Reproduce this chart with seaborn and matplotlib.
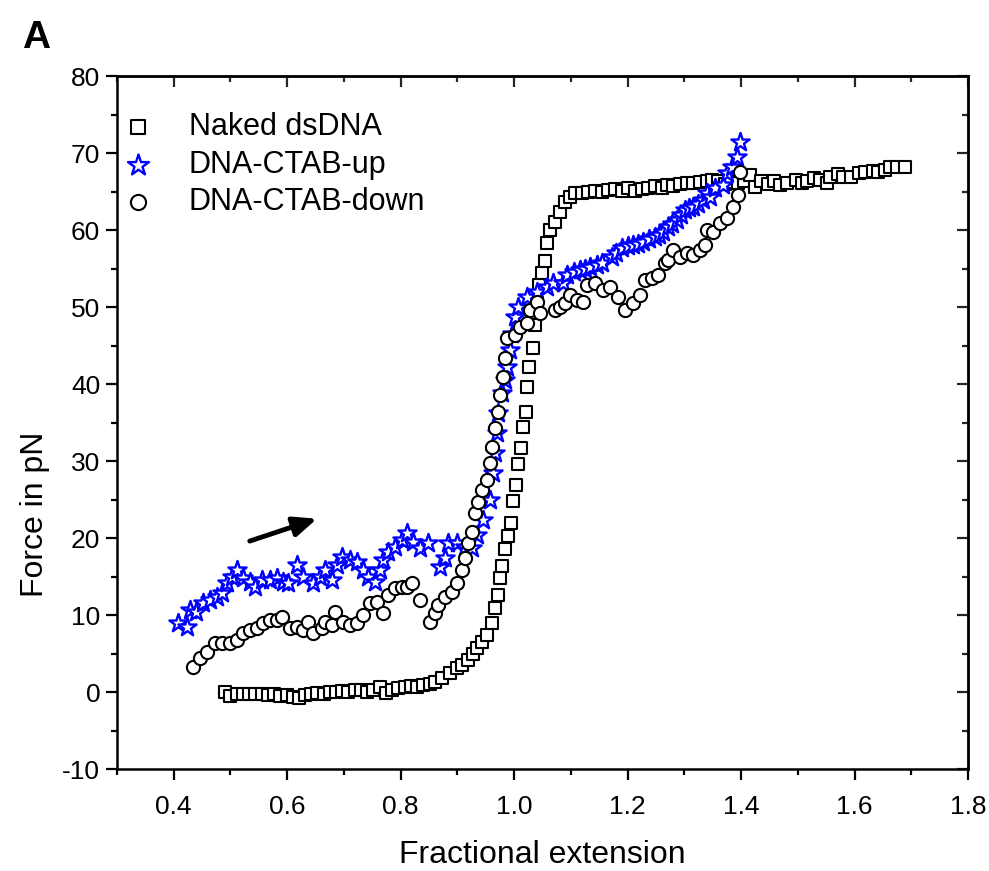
import matplotlib
matplotlib.use("Agg")
import matplotlib.pyplot as plt
import seaborn as sns
import numpy as np
from matplotlib.ticker import MultipleLocator

# ---------------- data ----------------
naked_x = [0.490, 0.500, 0.511, 0.522, 0.533, 0.544, 0.555, 0.566, 0.577, 0.588,
           0.599, 0.610, 0.620, 0.631, 0.642, 0.653, 0.664, 0.675, 0.686, 0.697,
           0.708, 0.719, 0.730, 0.741, 0.752, 0.763, 0.774, 0.785, 0.796, 0.807,
           0.818, 0.829, 0.840, 0.851, 0.860, 0.873, 0.887, 0.899, 0.908, 0.919,
           0.928, 0.935, 0.943, 0.952, 0.961, 0.966, 0.972, 0.975, 0.979, 0.984,
           0.989, 0.995, 0.998, 1.003, 1.007, 1.012, 1.016, 1.021, 1.023, 1.026,
           1.033, 1.037, 1.040, 1.043, 1.049, 1.054, 1.058, 1.063, 1.072, 1.081,
           1.090, 1.098, 1.107, 1.120, 1.130, 1.143, 1.155, 1.166, 1.178, 1.190,
           1.200, 1.213, 1.225, 1.236, 1.248, 1.260, 1.270, 1.280, 1.292, 1.305,
           1.315, 1.328, 1.340, 1.349, 1.360, 1.372, 1.383, 1.395, 1.405, 1.415,
           1.425, 1.436, 1.447, 1.458, 1.469, 1.481, 1.496, 1.508, 1.517, 1.528,
           1.540, 1.552, 1.557, 1.570, 1.580, 1.593, 1.607, 1.619, 1.632, 1.642,
           1.654, 1.663, 1.675, 1.689]
naked_y = [0.0, -0.5, -0.3, -0.2, -0.3, -0.2, -0.3, -0.4, -0.2, -0.5,
           -0.4, -0.6, -0.8, -0.4, -0.3, -0.1, -0.2, 0.0, 0.0, 0.1,
           0.0, 0.2, 0.3, 0.0, 0.2, 0.6, -0.1, 0.3, 0.5, 0.6,
           0.8, 0.7, 0.9, 1.0, 1.3, 1.8, 2.5, 3.1, 3.5, 4.2,
           4.9, 5.7, 6.5, 7.4, 9.0, 10.9, 12.6, 14.8, 16.4, 18.6,
           20.3, 21.9, 24.8, 26.9, 29.6, 31.7, 34.4, 36.4, 39.6, 42.2,
           44.7, 47.7, 50.5, 52.9, 54.4, 56.0, 58.3, 60.0, 61.0, 62.3,
           63.6, 64.3, 64.8, 64.8, 64.9, 65.1, 64.9, 65.2, 65.3, 65.1,
           65.5, 65.1, 65.3, 65.5, 65.7, 65.5, 65.8, 65.7, 66.0, 66.1,
           66.1, 66.2, 66.4, 66.5, 66.3, 66.0, 66.2, 66.1, 66.4, 67.1,
           65.6, 66.3, 66.0, 66.4, 65.8, 66.1, 66.5, 66.1, 66.3, 66.8,
           66.5, 66.1, 66.9, 67.3, 66.9, 66.9, 67.4, 67.5, 67.7, 67.5,
           67.8, 68.2, 68.2, 68.2]

up_x = [0.408, 0.423, 0.429, 0.440, 0.452, 0.464, 0.476, 0.485, 0.494, 0.503,
        0.511, 0.522, 0.534, 0.543, 0.556, 0.570, 0.582, 0.593, 0.601, 0.617,
        0.628, 0.646, 0.658, 0.667, 0.679, 0.688, 0.697, 0.711, 0.723, 0.734,
        0.742, 0.755, 0.764, 0.769, 0.778, 0.790, 0.802, 0.811, 0.822, 0.834,
        0.848, 0.869, 0.878, 0.883, 0.899, 0.913, 0.926, 0.935, 0.945, 0.957,
        0.963, 0.966, 0.970, 0.972, 0.979, 0.984, 0.987, 0.993, 0.997, 1.002,
        1.007, 1.023, 1.040, 1.058, 1.069, 1.086, 1.093, 1.105, 1.116, 1.125,
        1.134, 1.146, 1.155, 1.173, 1.180, 1.190, 1.200, 1.210, 1.218, 1.227,
        1.237, 1.248, 1.255, 1.262, 1.271, 1.279, 1.287, 1.294, 1.301, 1.308,
        1.315, 1.324, 1.333, 1.340, 1.345, 1.354, 1.368, 1.375, 1.384, 1.393,
        1.398]
up_y = [9.0, 8.4, 10.6, 10.4, 11.6, 11.9, 12.3, 12.9, 14.2, 15.0,
        15.8, 14.8, 14.3, 13.6, 14.5, 14.5, 14.8, 14.3, 14.2, 16.5,
        15.0, 14.2, 15.0, 15.8, 14.5, 16.5, 17.5, 17.1, 16.9, 15.8,
        15.0, 14.3, 15.8, 17.1, 18.2, 18.8, 19.7, 20.6, 19.5, 18.7,
        19.4, 16.2, 17.4, 19.4, 19.4, 18.8, 18.7, 20.4, 22.3, 24.9,
        28.4, 31.0, 33.6, 36.2, 38.8, 40.5, 42.2, 44.4, 46.5, 48.7,
        50.0, 51.3, 51.9, 52.6, 53.1, 53.1, 54.2, 54.5, 54.8, 55.0,
        55.2, 55.5, 55.7, 56.5, 57.0, 57.7, 57.9, 58.1, 58.2, 58.4,
        58.8, 59.1, 59.4, 59.7, 60.4, 60.8, 61.3, 62.0, 62.6, 62.8,
        63.0, 63.4, 63.9, 64.8, 64.3, 65.5, 65.8, 67.4, 68.2, 69.5,
        71.4]

down_x = [0.434, 0.446, 0.459, 0.473, 0.485, 0.499, 0.511, 0.522, 0.534, 0.547,
          0.557, 0.570, 0.582, 0.591, 0.605, 0.617, 0.628, 0.637, 0.646, 0.661,
          0.667, 0.679, 0.684, 0.698, 0.711, 0.723, 0.734, 0.746, 0.758, 0.769,
          0.778, 0.790, 0.802, 0.811, 0.820, 0.834, 0.852, 0.861, 0.866, 0.878,
          0.891, 0.899, 0.908, 0.913, 0.919, 0.926, 0.931, 0.936, 0.943, 0.952,
          0.957, 0.961, 0.966, 0.972, 0.975, 0.980, 0.984, 0.987, 1.002, 1.010,
          1.023, 1.028, 1.040, 1.046, 1.072, 1.081, 1.090, 1.098, 1.110, 1.121,
          1.128, 1.143, 1.157, 1.169, 1.183, 1.195, 1.210, 1.222, 1.231, 1.243,
          1.254, 1.266, 1.271, 1.280, 1.292, 1.305, 1.315, 1.328, 1.336, 1.340,
          1.351, 1.363, 1.375, 1.386, 1.395, 1.398]
down_y = [3.2, 4.4, 5.2, 6.4, 6.4, 6.4, 6.8, 7.7, 8.1, 8.3,
          9.0, 9.4, 9.4, 9.7, 8.3, 8.4, 8.1, 9.1, 7.7, 8.3,
          9.1, 8.7, 10.4, 9.1, 8.7, 9.0, 10.0, 11.6, 11.7, 10.3,
          12.6, 13.5, 13.6, 13.6, 14.2, 11.9, 9.1, 10.3, 11.3, 12.3,
          13.0, 14.2, 15.8, 17.4, 19.4, 20.8, 23.2, 24.7, 26.2, 27.5,
          29.7, 31.8, 34.3, 36.4, 38.6, 40.9, 43.4, 46.0, 46.4, 47.4,
          47.9, 49.6, 50.6, 49.2, 49.6, 50.0, 50.5, 51.6, 50.9, 50.6,
          52.9, 53.1, 52.2, 52.6, 51.3, 49.6, 50.5, 51.6, 53.5, 53.8,
          54.2, 55.7, 56.1, 57.4, 56.5, 57.0, 56.8, 57.4, 58.1, 60.0,
          59.7, 60.9, 61.6, 63.0, 64.5, 67.5]

series_labels = ["Naked dsDNA", "DNA-CTAB-up", "DNA-CTAB-down"]
arrow_start = (0.534, 19.6)
arrow_end = (0.6525, 22.5)

# ---------------- styling ----------------
sns.set_style("ticks")
plt.rcParams["font.family"] = ["Liberation Sans", "DejaVu Sans"]
plt.rcParams["axes.unicode_minus"] = False
plt.rcParams["text.color"] = "black"
plt.rcParams["axes.labelcolor"] = "black"

W, H = 989, 871
fig = plt.figure(figsize=(W / 100, H / 100), dpi=100)
L, R, T, B = 117, 968, 76, 769
ax = fig.add_axes([L / W, 1 - B / H, (R - L) / W, (B - T) / H])

sns.scatterplot(x=naked_x, y=naked_y, marker="s", s=74, facecolor="white",
                edgecolor="black", linewidth=1.5, ax=ax, label=series_labels[0],
                zorder=3)
sns.scatterplot(x=up_x, y=up_y, marker="*", s=190, facecolor="white",
                edgecolor="#0000ff", linewidth=1.7, ax=ax, label=series_labels[1],
                zorder=4)
sns.scatterplot(x=down_x, y=down_y, marker="o", s=90, facecolor="white",
                edgecolor="black", linewidth=1.5, ax=ax, label=series_labels[2],
                zorder=5)

ax.set_xlim(0.3, 1.8)
ax.set_ylim(-10, 80)
ax.xaxis.set_minor_locator(MultipleLocator(0.1))
ax.yaxis.set_major_locator(MultipleLocator(10))
ax.yaxis.set_minor_locator(MultipleLocator(5))
xt = np.arange(0.4, 1.81, 0.2)
ax.set_xticks(xt)
ax.set_xticklabels([f"{v:.1f}" for v in xt])

for sp in ax.spines.values():
    sp.set_linewidth(1.8)
    sp.set_color("black")

ax.tick_params(axis="both", which="both", direction="out", width=1.6,
               colors="black", labelsize=19, top=False, right=False)
ax.tick_params(axis="both", which="major", length=8)
ax.tick_params(axis="both", which="minor", length=4.5)
ax.tick_params(axis="x", which="major", pad=11)
ax.tick_params(axis="y", which="major", pad=4)

secx = ax.secondary_xaxis("top")
secx.xaxis.set_major_locator(MultipleLocator(0.2))
secx.xaxis.set_minor_locator(MultipleLocator(0.1))
secx.tick_params(axis="x", which="both", direction="in", width=1.6,
                 labeltop=False)
secx.tick_params(axis="x", which="major", length=8)
secx.tick_params(axis="x", which="minor", length=4.5)
secx.spines["top"].set_linewidth(1.8)

secy = ax.secondary_yaxis("right")
secy.yaxis.set_major_locator(MultipleLocator(10))
secy.yaxis.set_minor_locator(MultipleLocator(5))
secy.tick_params(axis="y", which="both", direction="in", width=1.6,
                 labelright=False)
secy.tick_params(axis="y", which="major", length=8)
secy.tick_params(axis="y", which="minor", length=4.5)
secy.spines["right"].set_linewidth(1.8)

ax.set_xlabel("Fractional extension", fontsize=23, color="black")
ax.xaxis.set_label_coords(0.5, -0.102)
ax.set_ylabel("Force in pN", fontsize=23, color="black")
ax.yaxis.set_label_coords(-0.079, 0.367)

ax.annotate("", xy=arrow_end, xytext=arrow_start,
            arrowprops=dict(arrowstyle="-|>,head_length=0.7,head_width=0.3",
                            lw=3.5, color="black", shrinkA=0, shrinkB=0,
                            mutation_scale=20))

leg = ax.legend(loc="upper left", bbox_to_anchor=(0.007, 0.948), frameon=False,
                fontsize=22, handlelength=1.0, handletextpad=1.15,
                labelspacing=0.25, borderaxespad=0, borderpad=0,
                scatterpoints=1, markerscale=1.15)
for t in leg.get_texts():
    t.set_color("black")

fig.text(22 / W, 1 - 48 / H, "A", fontsize=28, fontweight="bold",
         va="baseline", ha="left", color="black")

fig.savefig("out.png", dpi=100)
